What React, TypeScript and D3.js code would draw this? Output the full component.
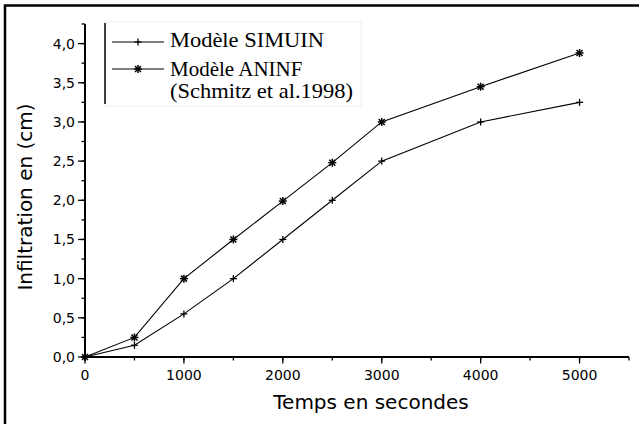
import React from "react";
import * as d3 from "d3";

const times = [0, 500, 1000, 1500, 2000, 2500, 3000, 4000, 5000];
const simuin = [0, 0.15, 0.55, 1.0, 1.5, 2.0, 2.5, 3.0, 3.25];
const aninf = [0, 0.25, 1.0, 1.5, 1.99, 2.48, 3.0, 3.45, 3.88];
const xMajorTicks = [0, 1000, 2000, 3000, 4000, 5000];
const yMajorTicks = [0, 0.5, 1.0, 1.5, 2.0, 2.5, 3.0, 3.5, 4.0];
const legendLabels = ["Modèle SIMUIN", "Modèle ANINF", "(Schmitz et al.1998)"];
const xTitle = "Temps en secondes";
const yTitle = "Infiltration en (cm)";

const W = 639;
const H = 424;

export default function App() {
  const x = d3.scaleLinear().domain([0, 5500]).range([85, 629]);
  const y = d3.scaleLinear().domain([0, 4.25]).range([357, 24]);
  const xMinor = d3.range(0, 5501, 500);
  const yMinor = d3.range(0, 4.26, 0.25);
  const line = d3
    .line<number>()
    .x((_, i) => x(times[i]))
    .y((d) => y(d));
  const fmtY = (v: number) => v.toFixed(1).replace(".", ",");
  const sans = "'DejaVu Sans', sans-serif";
  const serif = "'Liberation Serif', 'Times New Roman', serif";

  const plus = (cx: number, cy: number, r = 3.5, key?: any) => (
    <g key={key} stroke="#000" strokeWidth={1.3}>
      <line x1={cx - r} x2={cx + r} y1={cy} y2={cy} />
      <line x1={cx} x2={cx} y1={cy - r} y2={cy + r} />
    </g>
  );
  const star = (cx: number, cy: number, r = 4, key?: any) => {
    const d = r * 0.75;
    return (
      <g key={key} stroke="#000" strokeWidth={1.5}>
        <line x1={cx - r} x2={cx + r} y1={cy} y2={cy} />
        <line x1={cx} x2={cx} y1={cy - r} y2={cy + r} />
        <line x1={cx - d} x2={cx + d} y1={cy - d} y2={cy + d} />
        <line x1={cx - d} x2={cx + d} y1={cy + d} y2={cy - d} />
      </g>
    );
  };

  return (
    <svg
      width={W}
      height={H}
      viewBox={`0 0 ${W} ${H}`}
      style={{ position: "absolute", left: 0, top: 0, background: "#fff" }}
    >
      <rect x={0} y={0} width={W} height={H} fill="#fff" />
      {/* outer frame */}
      <rect x={5} y={5.5} width={W + 10} height={H + 10} fill="none" stroke="#000" strokeWidth={2.5} />

      {/* legend */}
      <rect x={105} y={22} width={256} height={84} fill="none" stroke="#eeeeee" strokeWidth={1} />
      <line x1={105} x2={105} y1={23} y2={104} stroke="#000" strokeWidth={1.5} />
      <line x1={112} x2={164} y1={42} y2={42} stroke="#000" strokeWidth={1.1} />
      {plus(138, 42)}
      <line x1={112} x2={164} y1={69} y2={69} stroke="#000" strokeWidth={1.1} />
      {star(138, 69)}
      <g fontFamily={serif} fontSize={21} fill="#000">
        <text x={170} y={47} textLength={154} lengthAdjust="spacingAndGlyphs">{legendLabels[0]}</text>
        <text x={170} y={75.5}>{legendLabels[1]}</text>
        <text x={170} y={97.5} textLength={183} lengthAdjust="spacingAndGlyphs">{legendLabels[2]}</text>
      </g>

      {/* series */}
      <path d={line(simuin) || ""} fill="none" stroke="#000" strokeWidth={1.1} />
      <path d={line(aninf) || ""} fill="none" stroke="#000" strokeWidth={1.1} />
      {simuin.map((v, i) => plus(x(times[i]), y(v), 3.5, "p" + i))}
      {aninf.map((v, i) => star(x(times[i]), y(v), 4, "s" + i))}

      {/* axes */}
      <line x1={x(0)} x2={x(5500)} y1={y(0)} y2={y(0)} stroke="#000" strokeWidth={2} />
      <line x1={x(0)} x2={x(0)} y1={y(0)} y2={y(4.25)} stroke="#000" strokeWidth={2} />
      {xMinor.map((v) => (
        <line key={"xm" + v} x1={x(v)} x2={x(v)} y1={y(0)} y2={y(0) + 3.5} stroke="#000" strokeWidth={1.3} />
      ))}
      {xMajorTicks.map((v) => (
        <line key={"xM" + v} x1={x(v)} x2={x(v)} y1={y(0)} y2={y(0) + 6.5} stroke="#000" strokeWidth={1.3} />
      ))}
      {yMinor.map((v) => (
        <line key={"ym" + v} x1={x(0) - 3.5} x2={x(0)} y1={y(v)} y2={y(v)} stroke="#000" strokeWidth={1.3} />
      ))}
      {yMajorTicks.map((v) => (
        <line key={"yM" + v} x1={x(0) - 7} x2={x(0)} y1={y(v)} y2={y(v)} stroke="#000" strokeWidth={1.3} />
      ))}
      <g fontFamily={sans} fontSize={14} fill="#000">
        {xMajorTicks.map((v) => (
          <text key={"xl" + v} x={x(v)} y={380} textAnchor="middle">
            {String(v)}
          </text>
        ))}
        {yMajorTicks.map((v) => (
          <text key={"yl" + v} x={75} y={y(v) + 5} textAnchor="end">
            {fmtY(v)}
          </text>
        ))}
      </g>
      <text x={371} y={409} textAnchor="middle" fontFamily={sans} fontSize={20} fill="#000">
        {xTitle}
      </text>
      <text
        transform={`translate(32,197) rotate(-90)`}
        textAnchor="middle"
        fontFamily={sans}
        fontSize={20}
        fill="#000"
      >
        {yTitle}
      </text>
    </svg>
  );
}
